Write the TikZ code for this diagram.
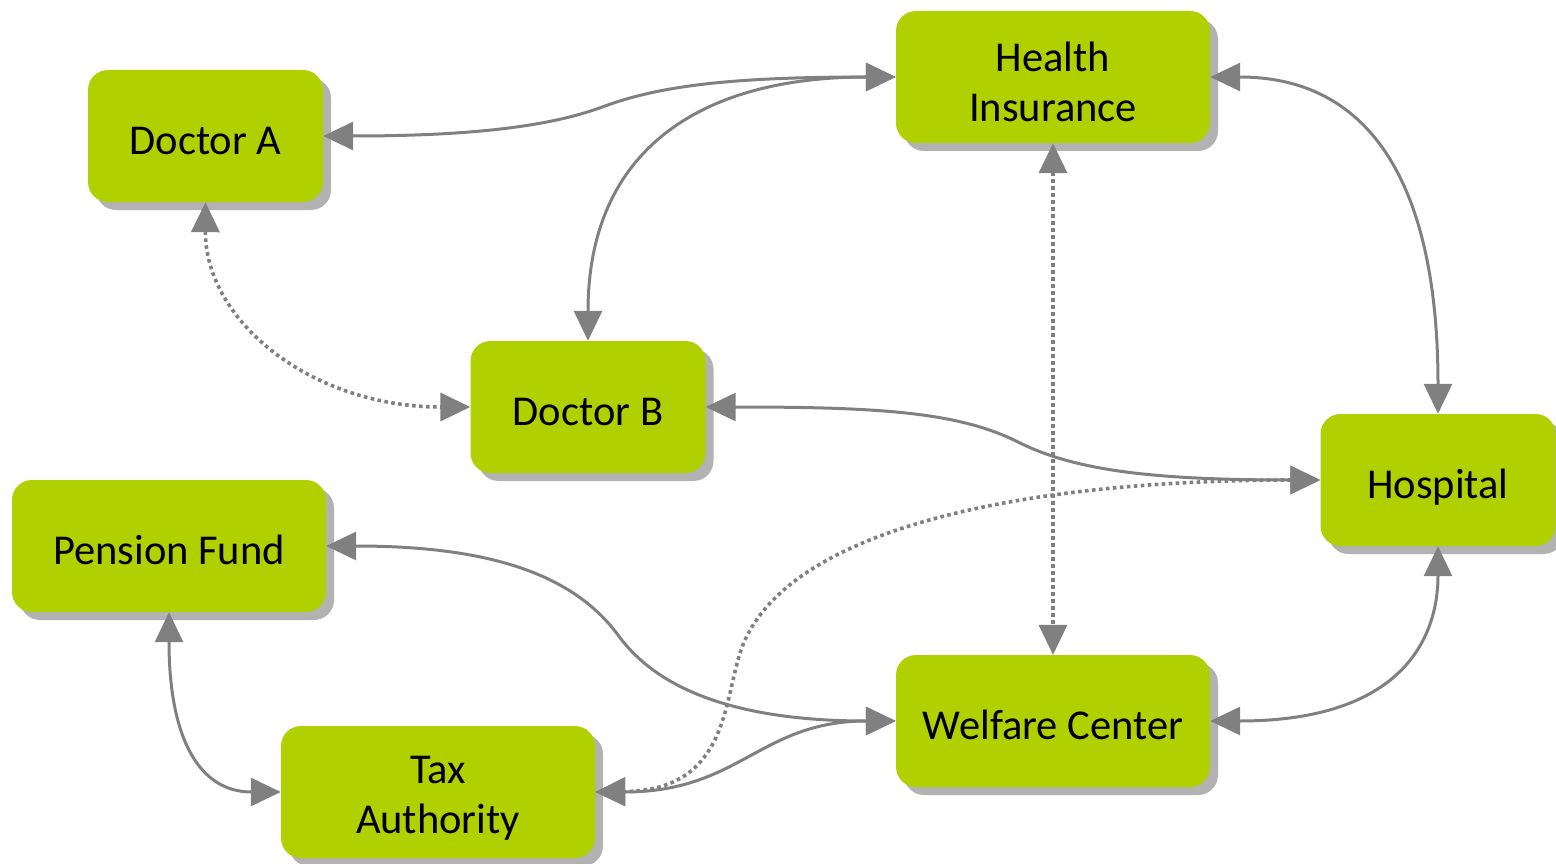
\documentclass[tikz,border=0pt]{standalone}
\usepackage{fontspec}
\setmainfont{Carlito}
\usetikzlibrary{arrows.meta,shadows}
\definecolor{boxgreen}{RGB}{176,208,0}
\definecolor{shadowgray}{RGB}{178,178,178}
\definecolor{linkgray}{RGB}{128,128,128}
% fixed line boxes so every label sits at the same height in its box
\newcommand\labeltop{\rule{0pt}{46.4pt}}
\newcommand\labelbottom{\rule[-9pt]{0pt}{9pt}}
\newcommand\pairtop{\rule{0pt}{40pt}}
\tikzset{
  entity/.style={rectangle, rounded corners=20pt, fill=boxgreen, draw=none,
    inner sep=0pt, minimum height=132pt, align=center,
    font=\fontsize{42.5}{50}\selectfont,
    drop shadow={shadow xshift=8pt, shadow yshift=-8pt, fill=shadowgray, opacity=1}},
  oneline/.style={execute at begin node=\labeltop, execute at end node=\labelbottom},
  narrow/.style={entity, minimum width=235pt},
  wide/.style={entity, minimum width=314pt},
  link/.style={draw=linkgray, line width=3pt,
    {Triangle[length=30pt,width=28pt]}-{Triangle[length=30pt,width=28pt]}},
  softlink/.style={link, line width=3.6pt, dash pattern=on 3.6pt off 3.4pt}
}
\begin{document}
\begin{tikzpicture}[x=1pt, y=-1pt]
\useasboundingbox (0,0) rectangle (1556,864);

% organisations
\node[narrow, oneline] (da) at (205.5,136) {Doctor A};
\node[wide]            (hi) at (1053,77)   {\pairtop Health\\Insurance};
\node[narrow, oneline] (db) at (588,407)   {Doctor B};
\node[narrow, oneline] (hp) at (1438,480)  {Hospital};
\node[wide, oneline]   (pf) at (169,546)   {Pension Fund};
\node[wide, oneline]   (wc) at (1053,721)  {Welfare Center};
\node[wide]            (ta) at (438,792)   {\pairtop Tax\\Authority};

% solid exchanges
\draw[link] (hi.west) .. controls (730,77) and (660,86) .. (605,106)
  .. controls (555,125) and (480,136) .. (da.east);
\draw[link] (hi.west) .. controls (700,77) and (588,150) .. (db.north);
\draw[link] (hi.east) .. controls (1380,77) and (1438,200) .. (hp.north);
\draw[link] (db.east) .. controls (880,407) and (960,412) .. (1020,443)
  .. controls (1075,470) and (1150,480) .. (hp.west);
\draw[link] (pf.east) .. controls (480,546) and (570,570) .. (618,635)
  .. controls (665,700) and (760,721) .. (wc.west);
\draw[link] (pf.south) .. controls (169,740) and (200,792) .. (ta.west);
\draw[link] (wc.west) .. controls (760,721) and (740,792) .. (ta.east);
\draw[link] (wc.east) .. controls (1400,721) and (1438,640) .. (hp.south);

% dotted exchanges
\coordinate (bend) at (745,640);
\draw[softlink] (hi.south) -- (wc.north);
\draw[softlink] (da.south) .. controls (205,320) and (310,407) .. (db.west);
\draw[softlink] (hp.west) .. controls (1050,480) and (800,520) .. (bend)
  .. controls (722,690) and (735,790) .. (ta.east);
\end{tikzpicture}
\end{document}
